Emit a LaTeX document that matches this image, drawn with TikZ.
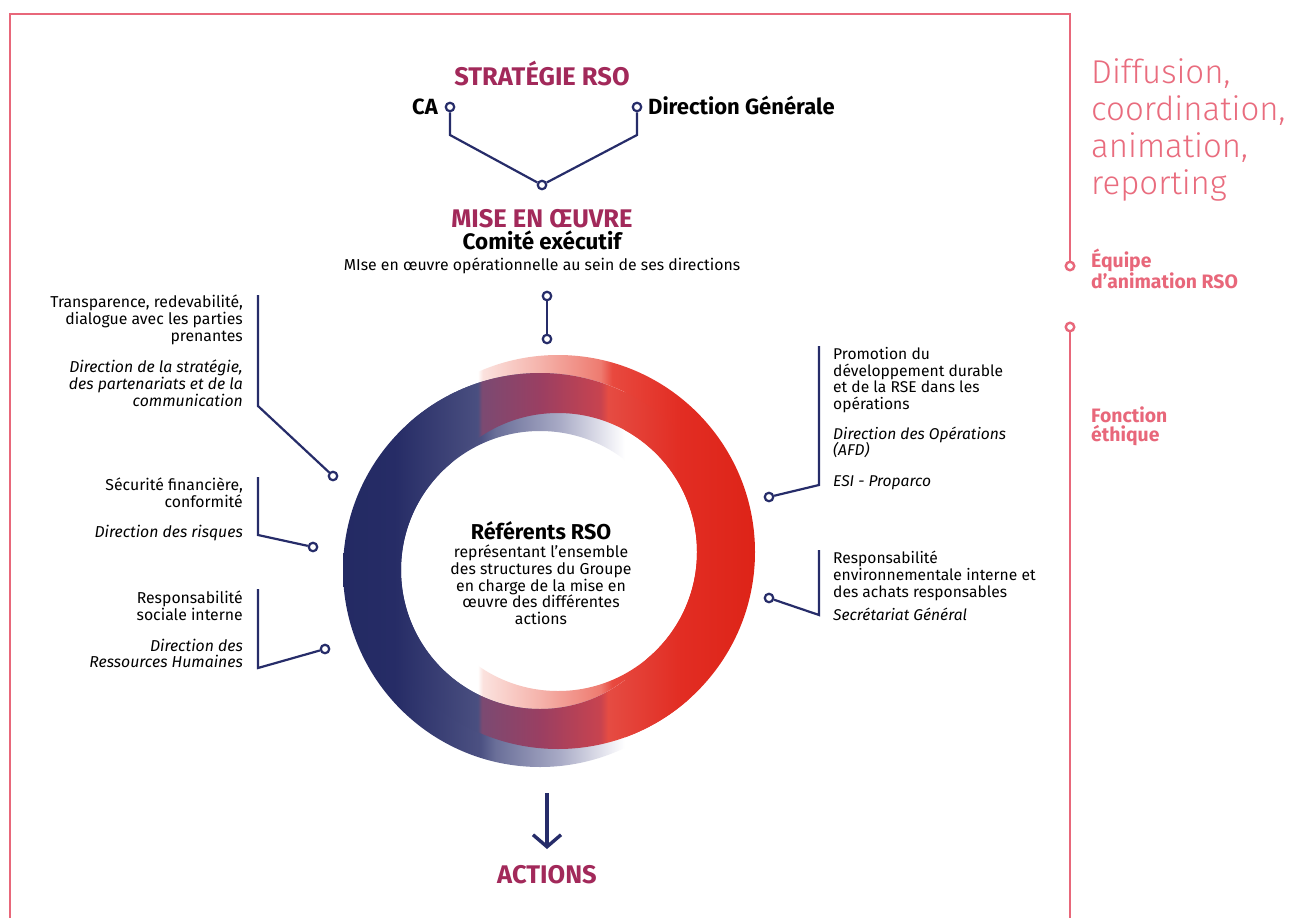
\documentclass[tikz,border=0pt]{standalone}
\usepackage{fontspec}
\setmainfont{Fira Sans}
\IfFontExistsTF{Fira Sans Light}{\newfontfamily\lightfont{Fira Sans Light}}{\newfontfamily\lightfont{Fira Sans}}
\usetikzlibrary{arrows.meta}
\definecolor{cNavy}{HTML}{262C69}
\definecolor{cBurg}{HTML}{A2295A}
\definecolor{cPink}{HTML}{E8677A}
\definecolor{cPinkT}{HTML}{E96C7E}
\definecolor{bA}{HTML}{232A63}
\definecolor{bB}{HTML}{262C66}
\definecolor{bC}{HTML}{4C5182}
\definecolor{bD}{HTML}{6A6F99}
\definecolor{bE}{HTML}{A9ABC6}
\definecolor{bF}{HTML}{EFEFF5}
\definecolor{rA}{HTML}{FBE2DE}
\definecolor{rB}{HTML}{F5B3AB}
\definecolor{rC}{HTML}{EE7B70}
\definecolor{rD}{HTML}{E8493F}
\definecolor{rE}{HTML}{E22D23}
\definecolor{rF}{HTML}{DD2317}
\definecolor{mA}{HTML}{4A4F80}
\definecolor{mB}{HTML}{7B4A72}
\definecolor{mC}{HTML}{9A3F62}
\definecolor{mD}{HTML}{C8434F}
\definecolor{mE}{HTML}{E54C43}
\pgfdeclarehorizontalshading{ringblue}{100bp}{color(0bp)=(bA); color(25bp)=(bA); color(31.5bp)=(bB); color(41.7bp)=(bC); color(43.5bp)=(bD); color(51.2bp)=(bE); color(57.4bp)=(bF); color(58.9bp)=(white); color(100bp)=(white)}
\pgfdeclarehorizontalshading{ringred}{100bp}{color(0bp)=(white); color(41.4bp)=(white); color(42bp)=(rA); color(48.8bp)=(rB); color(56bp)=(rC); color(57.4bp)=(rD); color(65.5bp)=(rE); color(75bp)=(rF); color(100bp)=(rF)}
\pgfdeclarehorizontalshading{ringmix}{100bp}{color(0bp)=(bA); color(25bp)=(bA); color(31.5bp)=(bB); color(41.4bp)=(mA); color(41.9bp)=(mB); color(48.8bp)=(mC); color(56bp)=(mD); color(56.9bp)=(mE); color(65.5bp)=(rE); color(75bp)=(rF); color(100bp)=(rF)}
\newcommand\bluering{(737,570) arc[start angle=0,end angle=360,radius=197] (679,570) arc[start angle=0,end angle=-360,radius=139]}
\newcommand\redring{(755,552) arc[start angle=0,end angle=360,radius=197] (697,552) arc[start angle=0,end angle=-360,radius=139]}
\begin{document}
\begin{tikzpicture}[x=1pt,y=-1pt,
  dot/.style={circle, draw=cNavy, fill=white, line width=2.2pt, minimum size=8.5pt, inner sep=0pt},
  pdot/.style={circle, draw=cPink, fill=white, line width=2.4pt, minimum size=8.5pt, inner sep=0pt},
  conn/.style={draw=cNavy, line width=2.2pt},
  frameline/.style={draw=cPink, line width=2.7pt},
  title/.style={font=\bfseries\fontsize{25.5}{28}\selectfont, text=cBurg, inner sep=0pt},
  small/.style={font=\fontsize{15.8}{16.7}\selectfont, inner sep=0pt},
  smallr/.style={font=\fontsize{15.6}{16.7}\selectfont, inner sep=0pt},
  bold/.style={font=\bfseries\fontsize{22}{24}\selectfont, inner sep=0pt},
  pinkbold/.style={font=\bfseries\fontsize{19.4}{19}\selectfont, text=cPink, inner sep=0pt, align=left},
  pinkbig/.style={font=\lightfont\fontsize{33}{37}\selectfont, text=cPinkT, inner sep=0pt, align=left}]
\useasboundingbox (0,0) rectangle (1293,918);
\fill[white] (0,0) rectangle (1293,918);
% ring
\begin{scope}
  \clip \redring;
  \shade[shading=ringred] (340,330) rectangle (760,790);
\end{scope}
\begin{scope}
  \clip (330,330) rectangle (625,790);
  \clip \bluering;
  \shade[shading=ringblue] (340,330) rectangle (760,790);
\end{scope}
\begin{scope}
  \clip \redring;
  \clip \bluering;
  \shade[shading=ringmix] (340,330) rectangle (760,790);
\end{scope}
% frame
\node[pdot] (eqd) at (1070,266) {};
\node[pdot] (fod) at (1070,327) {};
\coordinate (fbl) at (10,918);
\coordinate (ftl) at (10,14);
\coordinate (ftr) at (1070,14);
\coordinate (fbr) at (1070,918);
\draw[frameline] (fbl) -- (ftl) -- (ftr) -- (eqd);
\draw[frameline] (fod) -- (fbr);
% right side texts
\node[pinkbig, anchor=north west] (diff) at (1091,58) {Diffusion,\\coordination,\\animation,\\reporting};
\node[pinkbold, anchor=north west] (equipe) at (1091,249) {Équipe\\d’animation RSO};
\node[pinkbold, anchor=north west] (fonc) at (1091,407) {Fonction\\éthique};
% top
\node[title, anchor=base] (strat) at (542,85) {STRATÉGIE RSO};
\node[dot] (ca) at (450,107) {};
\node[dot] (dg) at (637,107) {};
\node[dot] (mj) at (542,185) {};
\node[bold, anchor=base east] (cat) at (438,114) {CA};
\node[bold, anchor=base west] (dgt) at (648,114) {Direction Générale};
\coordinate (cab) at (450,135);
\coordinate (dgb) at (637,135);
\draw[conn] (ca) -- (cab) -- (mj);
\draw[conn] (dg) -- (dgb) -- (mj);
\node[title, anchor=base] (mise) at (542,227) {MISE EN ŒUVRE};
\node[font=\bfseries\fontsize{22.4}{24}\selectfont, inner sep=0pt, anchor=base] (comex) at (542,249) {Comité exécutif};
\node[small, anchor=base] (comexs) at (542,270) {MIse en œuvre opérationnelle au sein de ses directions};
\node[dot] (v1) at (547,296) {};
\node[dot] (v2) at (547,339) {};
\draw[conn] (v1) -- (v2);
% centre
\node[font=\bfseries\fontsize{21.5}{24}\selectfont, inner sep=0pt, anchor=base] (ref) at (541,539) {Référents RSO};
\node[small, anchor=north, align=center] (refs) at (541,545) {représentant l’ensemble\\des structures du Groupe\\en charge de la mise en\\œuvre des différentes\\actions};
% left items
\node[small, anchor=north east, align=right] (lt1) at (243,295) {Transparence, redevabilité,\\dialogue avec les parties\\prenantes\\[15pt]\itshape Direction de la stratégie,\\\itshape des partenariats et de la\\\itshape communication};
\node[dot] (l1d) at (333,476) {};
\coordinate (l1t) at (258,295);
\coordinate (l1b) at (258,406);
\draw[conn] (l1t) -- (l1b) -- (l1d);
\node[small, anchor=north east, align=right] (lt2) at (243,478) {Sécurité financière,\\conformité\\[13pt]\itshape Direction des risques};
\node[dot] (l2d) at (313,547) {};
\coordinate (l2t) at (258,477);
\coordinate (l2b) at (258,535);
\draw[conn] (l2t) -- (l2b) -- (l2d);
\node[small, anchor=north east, align=right] (lt3) at (243,591) {Responsabilité\\sociale interne\\[14pt]\itshape Direction des\\\itshape Ressources Humaines};
\node[dot] (l3d) at (325,649) {};
\coordinate (l3t) at (258,589);
\coordinate (l3b) at (258,668);
\draw[conn] (l3t) -- (l3b) -- (l3d);
% right items
\node[smallr, anchor=north west, align=left] (rt1) at (833,347) {Promotion du\\développement durable\\et de la RSE dans les\\opérations\\[13pt]\itshape Direction des Opérations\\\itshape (AFD)\\[14pt]\itshape ESI - Proparco};
\node[dot] (r1d) at (769,497) {};
\coordinate (r1t) at (819,346);
\coordinate (r1b) at (819,485);
\draw[conn] (r1t) -- (r1b) -- (r1d);
\node[smallr, anchor=north west, align=left] (rt2) at (833,551) {Responsabilité\\environnementale interne et\\des achats responsables\\[7pt]\itshape Secrétariat Général};
\node[dot] (r2d) at (769,598) {};
\coordinate (r2t) at (819,550);
\coordinate (r2b) at (819,615);
\draw[conn] (r2t) -- (r2b) -- (r2d);
% bottom
\coordinate (arS) at (547,793);
\coordinate (arE) at (547,849);
\draw[draw=cNavy, line width=3.4pt, -{Straight Barb[length=12pt, width=28pt, line width=3.4pt]}] (arS) -- (arE);
\node[title, anchor=base] (act) at (547,883) {ACTIONS};
\end{tikzpicture}
\end{document}
